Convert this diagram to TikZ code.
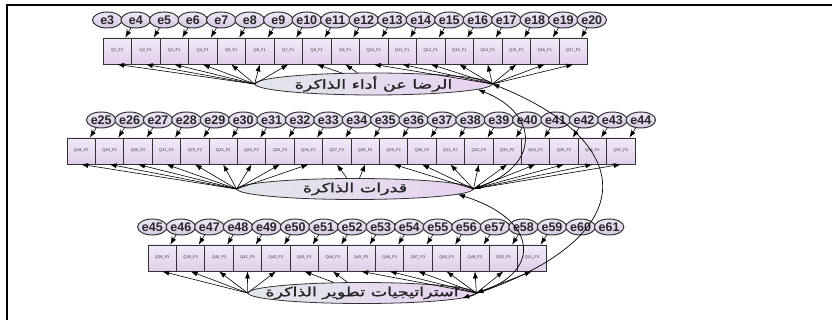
\documentclass[tikz,border=0pt]{standalone}
\usepackage{fontspec}
\setmainfont{Liberation Sans}
\newfontfamily\arabicfont[Script=Arabic,FakeBold=1.2]{DejaVu Sans}
\TeXXeTstate=1
\usetikzlibrary{shapes.geometric,arrows.meta}
\definecolor{boxtop}{HTML}{F2EAF7}
\definecolor{boxbot}{HTML}{E0CDEB}
\definecolor{errl}{HTML}{EFE8F5}
\definecolor{errd}{HTML}{D6C8E4}
\definecolor{latl}{HTML}{E2E6EC}
\definecolor{latr}{HTML}{E8D2F0}
\definecolor{edgec}{HTML}{333333}
\newcommand\artext[1]{\makebox[0pt]{\scalebox{1.4}[1]{\beginR #1\endR}}}
\tikzset{
  obsbox/.style={draw=edgec, line width=0.8pt, top color=boxtop, bottom color=boxbot,
    minimum width=28.4pt, minimum height=26pt, inner sep=0pt,
    font=\fontsize{4}{4}\selectfont, text=black!80},
  errc/.style={ellipse, draw=edgec, line width=1pt, top color=errl, bottom color=errd,
    minimum width=29.5pt, minimum height=16pt, inner sep=0pt,
    font=\fontsize{12.5}{13}\selectfont\bfseries, text=black!85},
  latv/.style={ellipse, draw=edgec, line width=0.8pt, left color=latl, right color=latr,
    minimum height=21pt, inner sep=0pt, font=\arabicfont\fontsize{12.5}{13}\selectfont, text=black!85},
  arr/.style={draw=black, line width=0.6pt, -{Latex[length=7pt,width=5pt]}},
  cov/.style={draw=black, line width=0.7pt, {Latex[length=7pt,width=5pt]}-{Latex[length=7pt,width=5pt]}},
  one/.style={font=\fontsize{4.5}{5}\selectfont, inner sep=0.5pt, text=black!80}
}
\begin{document}
\begin{tikzpicture}[x=1pt,y=-1pt]
\useasboundingbox (0,0) rectangle (832,320);
% frame
\draw[line width=1.6pt] (7,320) -- (7,5) -- (832,5);
% ---------- row 1 ----------
\foreach \i in {1,...,17} \node[obsbox] (q\i) at ({117.25+28.5*(\i-1)},51) {Q\i\_F1};
\foreach \k in {3,...,20} \node[errc] (e\k) at ({107.25+28.5*(\k-3)},20) {e\k};
\foreach \i in {1,...,17} {\pgfmathtruncatemacro\k{\i+3}
  \draw[arr] (e\k) -- node[one,pos=0.3,left] {1} (q\i);}
\node[latv, minimum width=237pt] (L1) at (373.5,84) {\artext{الرضا عن أداء الذاكرة}};
\foreach \i in {1,...,7} \draw[arr] (L1.west) -- (q\i.south);
\foreach \i in {8,9} \draw[arr] (L1) -- (q\i.south);
\foreach \i in {10,...,17} \draw[arr] (L1.east) -- (q\i.south);
% ---------- row 2 ----------
\foreach \i in {18,...,37} \node[obsbox] (q\i) at ({81.2+28.4*(\i-18)},151) {Q\i\_F2};
\foreach \k in {25,...,44} \node[errc] (e\k) at ({101.2+28.4*(\k-25)},120) {e\k};
\foreach \i in {18,...,37} {\pgfmathtruncatemacro\k{\i+7}
  \draw[arr] (e\k) -- node[one,pos=0.3,left] {1} (q\i);}
\node[latv, minimum width=236pt] (L2) at (355,189) {\artext{قدرات الذاكرة}};
\foreach \i in {18,...,26} \draw[arr] (L2.west) -- (q\i.south);
\foreach \i in {27,28} \draw[arr] (L2) -- (q\i.south);
\foreach \i in {29,...,37} \draw[arr] (L2.east) -- (q\i.south);
% ---------- row 3 ----------
\foreach \i in {38,...,51} \node[obsbox] (q\i) at ({162.2+28.43*(\i-38)},258) {Q\i\_F3};
\foreach \k in {45,...,61} \node[errc] (e\k) at ({152.3+28.55*(\k-45)},227) {e\k};
\foreach \i in {38,...,51} {\pgfmathtruncatemacro\k{\i+8}
  \draw[arr] (e\k) -- node[one,pos=0.3,left] {1} (q\i);}
\node[latv, minimum width=228pt] (L3) at (362,293) {\artext{استراتيجيات تطوير الذاكرة}};
\foreach \i in {38,...,42} \draw[arr] (L3.west) -- (q\i.south);
\foreach \i in {43,44} \draw[arr] (L3) -- (q\i.south);
\foreach \i in {45,...,51} \draw[arr] (L3.east) -- (q\i.south);
% ---------- covariances ----------
\draw[cov] (L1.east) .. controls (642,144) and (642,240) .. (L3.-3);
\draw[cov] (L1.-3) .. controls (540,114) and (540,166) .. (L2.east);
\draw[cov] (L2.-3) .. controls (540,220) and (540,272) .. (L3.east);
\end{tikzpicture}
\end{document}
